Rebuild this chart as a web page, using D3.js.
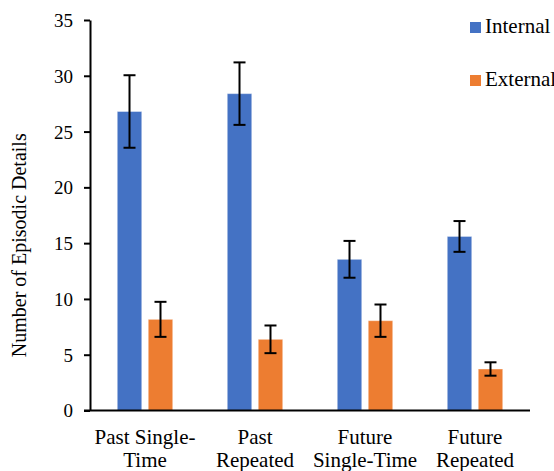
<!DOCTYPE html>
<html>
<head>
<meta charset="utf-8">
<script src="https://cdn.jsdelivr.net/npm/d3@7"></script>
<style>
    body { margin: 0; background: #fff; }
</style>
</head>
<body>
<svg id="chart"></svg>
<script>
const categories = [['Past Single-', 'Time'], ['Past', 'Repeated'], ['Future', 'Single-Time'], ['Future', 'Repeated']];
const seriesNames = ['Internal', 'External'];
const internalValues = [26.8, 28.4, 13.55, 15.6];
const internalErrors = [3.25, 2.8, 1.65, 1.38];
const externalValues = [8.17, 6.38, 8.05, 3.72];
const externalErrors = [1.57, 1.24, 1.45, 0.6];
const yTicks = [0, 5, 10, 15, 20, 25, 30, 35];

const colors = { Internal: '#4472C4', External: '#ED7D31' };
const FONT = 'Liberation Serif';

const config = {
    width: 554,
    height: 471,
    margin: { top: 20, right: 24, bottom: 60, left: 90 }
};

const svg = d3.select('#chart')
    .attr('width', config.width)
    .attr('height', config.height);

const innerWidth = config.width - config.margin.left - config.margin.right;
const innerHeight = 410.5 - config.margin.top;

const chart = svg.append('g')
    .attr('transform', `translate(${config.margin.left},${config.margin.top})`);

const catKeys = categories.map(c => c.join(' '));

// build rows for grouped bars
const rows = catKeys.map((k, i) => ({
    key: k,
    bars: [
        { series: 'Internal', value: internalValues[i], err: internalErrors[i] },
        { series: 'External', value: externalValues[i], err: externalErrors[i] }
    ]
}));

const x0 = d3.scaleBand()
    .domain(catKeys)
    .range([0, innerWidth])
    .padding(0);

const x1 = d3.scaleBand()
    .domain(seriesNames)
    .range([0, x0.bandwidth()])
    .paddingInner(0.21)
    .paddingOuter(0.88);

const y = d3.scaleLinear()
    .domain([0, 35])
    .range([innerHeight, 0]);

// y axis
const yAxis = d3.axisLeft(y).tickValues(yTicks).tickSize(6).tickSizeOuter(0).tickPadding(11);
const yAxisG = chart.append('g').call(yAxis);
yAxisG.select('.domain').attr('stroke', '#000').attr('stroke-width', 2);
yAxisG.selectAll('.tick line').attr('stroke', '#000').attr('stroke-width', 2);
yAxisG.selectAll('.tick text')
    .style('font-family', FONT)
    .style('font-size', '19px')
    .attr('fill', '#000')
    .attr('dy', '0.34em');

// bars
const groups = chart.selectAll('.group')
    .data(rows)
    .join('g')
    .attr('class', 'group')
    .attr('transform', d => `translate(${x0(d.key)},0)`);

groups.selectAll('rect')
    .data(d => d.bars)
    .join('rect')
    .attr('x', d => x1(d.series))
    .attr('y', d => y(d.value))
    .attr('width', x1.bandwidth())
    .attr('height', d => innerHeight - y(d.value))
    .attr('fill', d => colors[d.series])
    .attr('stroke', '#fff')
    .attr('stroke-opacity', 0.4)
    .attr('stroke-width', 1);

// error bars
const capW = 6;
const eb = groups.selectAll('.err')
    .data(d => d.bars)
    .join('g')
    .attr('class', 'err')
    .attr('stroke', '#000')
    .attr('stroke-width', 2);

eb.append('line')
    .attr('x1', d => x1(d.series) + x1.bandwidth() / 2)
    .attr('x2', d => x1(d.series) + x1.bandwidth() / 2)
    .attr('y1', d => y(d.value + d.err))
    .attr('y2', d => y(d.value - d.err));

eb.selectAll('.cap')
    .data(d => [d.value + d.err, d.value - d.err].map(v => ({ v: v, series: d.series })))
    .join('line')
    .attr('class', 'cap')
    .attr('x1', d => x1(d.series) + x1.bandwidth() / 2 - capW)
    .attr('x2', d => x1(d.series) + x1.bandwidth() / 2 + capW)
    .attr('y1', d => y(d.v))
    .attr('y2', d => y(d.v));

// x axis
const xAxisG = chart.append('g')
    .attr('transform', `translate(0,${innerHeight})`)
    .call(d3.axisBottom(x0).tickSize(0).tickFormat(''));
xAxisG.select('.domain').attr('stroke', '#000').attr('stroke-width', 2).attr('d', `M-6,0H${innerWidth}`);

xAxisG.selectAll('.tick').each(function(d, i) {
    const t = d3.select(this).append('text')
        .attr('text-anchor', 'middle')
        .attr('fill', '#000')
        .style('font-family', FONT)
        .style('font-size', '21px');
    categories[i].forEach((line, j) => {
        t.append('tspan')
            .attr('x', 0)
            .attr('y', 33 + j * 23)
            .text(line);
    });
});

// y axis label
chart.append('text')
    .attr('transform', `translate(-64, ${innerHeight / 2 + 30}) rotate(-90)`)
    .attr('text-anchor', 'middle')
    .style('font-family', FONT)
    .style('font-size', '20px')
    .text('Number of Episodic Details');

// legend
const legend = svg.append('g')
    .attr('transform', 'translate(470, 22)');

const items = legend.selectAll('g')
    .data(seriesNames)
    .join('g')
    .attr('transform', (d, i) => `translate(0, ${i * 53})`);

items.append('rect')
    .attr('width', 11)
    .attr('height', 11)
    .attr('fill', d => colors[d]);

items.append('text')
    .attr('x', 15)
    .attr('y', 11)
    .style('font-family', FONT)
    .style('font-size', '21px')
    .text(d => d);
</script>
</body>
</html>
